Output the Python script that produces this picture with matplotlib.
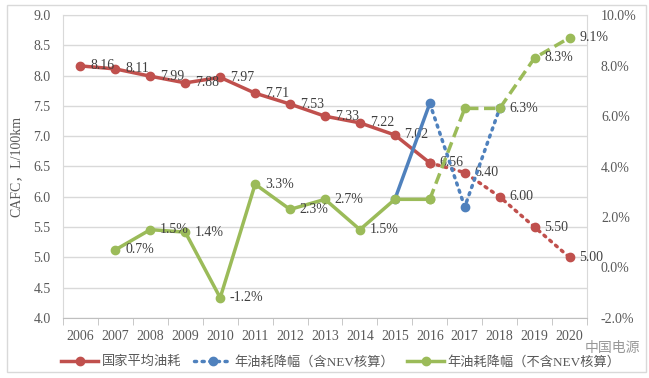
import matplotlib.pyplot as plt
from matplotlib.lines import Line2D
from matplotlib.patches import Rectangle
from matplotlib.ticker import MultipleLocator, FuncFormatter

plt.rcParams['font.family'] = ['Liberation Serif', 'Noto Sans CJK SC']

# --------------------------------------------------
# data
# --------------------------------------------------
years = [str(y) for y in range(2006, 2021)]
cafc = [8.16, 8.11, 7.99, 7.88, 7.97, 7.71, 7.53, 7.33, 7.22, 7.02, 6.56, 6.40, 6.00, 5.50, 5.00]
# yearly drop excluding NEV (%), starts 2007
drop_years = years[1:]
drop_no_nev = [0.7, 1.5, 1.4, -1.2, 3.3, 2.3, 2.7, 1.5, 2.7, 2.7, 6.3, 6.3, 8.3, 9.1]
drop_labels = ['0.7%', '1.5%', '1.4%', '-1.2%', '3.3%', '2.3%', '2.7%', '1.5%', '', '', '', '6.3%', '8.3%', '9.1%']
# yearly drop including NEV (%)
nev_years = ['2015', '2016', '2017', '2018']
drop_nev = [2.7, 6.5, 2.4, 6.3]

legend_names = ['国家平均油耗', '年油耗降幅（含NEV核算）', '年油耗降幅（不含NEV核算）']

RED = '#C0504D'
BLUE = '#4F81BD'
GREEN = '#9BBB59'
TXT = '#404040'
TICK = '#595959'
GRID = '#d9d9d9'

W, H = 649, 378
fig = plt.figure(figsize=(W / 100, H / 100), dpi=100)
ax = fig.add_axes([63 / W, 1 - 318 / H, (587 - 63) / W, (318 - 15) / H])
ax2 = ax.twinx()

pos = {y: i for i, y in enumerate(years)}
xr = [pos[y] for y in years]
xg = [pos[y] for y in drop_years]
xb = [pos[y] for y in nev_years]
split = pos['2016']

# --------------------------------------------------
# red: national average fuel consumption
# --------------------------------------------------
ax.plot(xr[:split + 1], cafc[:split + 1], color=RED, lw=2.5, marker='o', ms=6, zorder=3)
ax.plot(xr[split:], cafc[split:], color=RED, lw=2.5, ls=(0, (0.6, 1.6)),
        dash_capstyle='round', marker='o', ms=6, zorder=3)
for x, v in zip(xr, cafc):
    ax.annotate(f'{v:.2f}', (x, v), xytext=(7, 0), textcoords='offset points',
                ha='left', va='center', fontsize=10, color=TXT, zorder=4)

# --------------------------------------------------
# blue: incl. NEV
# --------------------------------------------------
ax2.plot(xb[:2], drop_nev[:2], color=BLUE, lw=2.5, zorder=2)
ax2.plot(xb[1:], drop_nev[1:], color=BLUE, lw=2.5, ls=(0, (0.6, 1.6)),
         dash_capstyle='round', zorder=2)
ax2.plot(xb, drop_nev, ls='none', marker='o', ms=6, color=BLUE, zorder=2)

# --------------------------------------------------
# green: excl. NEV
# --------------------------------------------------
gs = drop_years.index('2016')
ax2.plot(xg[:gs + 1], drop_no_nev[:gs + 1], color=GREEN, lw=2.5, marker='o', ms=6, zorder=3)
ax2.plot(xg[gs:], drop_no_nev[gs:], color=GREEN, lw=2.5, ls=(0, (3.2, 1.6)),
         marker='o', ms=6, zorder=3)
for x, v, t in zip(xg, drop_no_nev, drop_labels):
    if t:
        ax2.annotate(t, (x, v), xytext=(7, 0), textcoords='offset points',
                     ha='left', va='center', fontsize=10, color=TXT, zorder=4)

# --------------------------------------------------
# axes
# --------------------------------------------------
ax.set_xlim(-0.5, len(years) - 0.5)
ax.set_ylim(4.0, 9.0)
ax.yaxis.set_major_locator(MultipleLocator(0.5))
ax.yaxis.set_major_formatter(FuncFormatter(lambda v, p: f'{v:.1f}'))
ax.grid(axis='y', color=GRID, lw=1)
ax.set_axisbelow(True)
ax.set_xticks(xr)
ax.set_xticklabels(years)
ax.set_xticks([i - 0.5 for i in range(len(years) + 1)], minor=True)
ax.tick_params(axis='x', which='major', length=0, pad=9, labelsize=10, colors=TICK)
ax.tick_params(axis='x', which='minor', length=5, color='#bfbfbf')
ax.tick_params(axis='y', length=0, pad=9, labelsize=10, colors=TICK)
ax.set_ylabel('CAFC，L/100km', fontsize=10, color=TICK, labelpad=8)

ax2.set_ylim(-2.0, 10.0)
ax2.yaxis.set_major_locator(MultipleLocator(2.0))
ax2.yaxis.set_major_formatter(FuncFormatter(lambda v, p: f'{v:.1f}%'))
ax2.tick_params(axis='y', length=0, pad=10, labelsize=10, colors=TICK)

for a in (ax, ax2):
    for s in a.spines.values():
        s.set_color(GRID)
ax.spines['bottom'].set_color('#bfbfbf')
for s in ax2.spines.values():
    s.set_visible(False)

# --------------------------------------------------
# legend, frame, watermark
# --------------------------------------------------
handles = [
    Line2D([], [], color=RED, lw=2.5, marker='o', ms=6),
    Line2D([], [], color=BLUE, lw=2.5, ls=(0, (0.6, 1.6)), dash_capstyle='round', marker='o', ms=6),
    Line2D([], [], color=GREEN, lw=2.5, marker='o', ms=6),
]
fig.legend(handles, legend_names, loc='center', bbox_to_anchor=(341 / W, 1 - 362 / H), ncol=3,
           frameon=False, fontsize=9.5, handlelength=2.8, columnspacing=1.0,
           handletextpad=0.25, labelcolor=TICK)

fig.patches.append(Rectangle((7 / W, 1 - 372 / H), (646 - 7) / W, (372 - 5) / H,
                             transform=fig.transFigure, fill=False, ec=GRID, lw=1))
fig.text(612 / W, 1 - 348 / H, '中国电源', family='Noto Sans CJK SC', fontsize=10,
         color='#7f7f7f', ha='center', va='center', alpha=0.8)

fig.savefig('out.png', dpi=100)
